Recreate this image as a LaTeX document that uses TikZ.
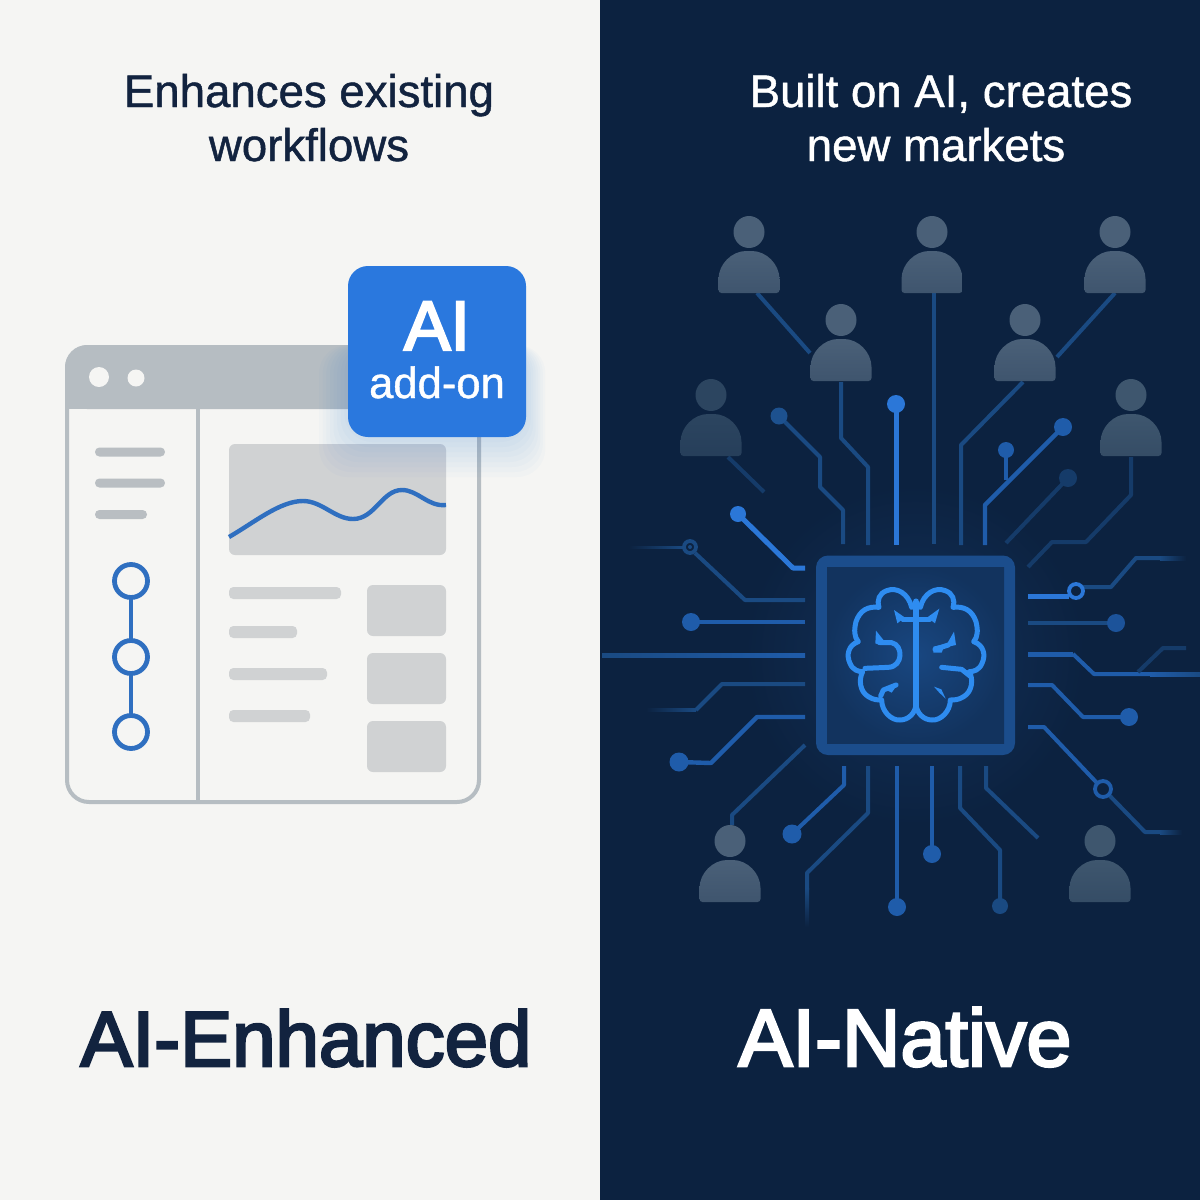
\documentclass[tikz,border=0pt]{standalone}
\usepackage{fontspec}
\setmainfont{Liberation Sans}
\newfontfamily\titlefont[FakeBold=3.2]{Liberation Sans}
\newfontfamily\headfont[FakeBold=1]{Liberation Sans}
\definecolor{lightbg}{HTML}{F5F5F3}
\definecolor{darkbg}{HTML}{0C2240}
\definecolor{ink}{HTML}{12233F}
\definecolor{frame}{HTML}{B6BDC2}
\definecolor{soft}{HTML}{D0D2D3}
\definecolor{barc}{HTML}{B9BEC2}
\definecolor{lineblue}{HTML}{2F6FC0}
\definecolor{badge}{HTML}{2A78DE}
\definecolor{bright}{HTML}{2B77D8}
\definecolor{midb}{HTML}{1F5CAA}
\definecolor{dimb}{HTML}{1A4A82}
\definecolor{faintb}{HTML}{153B69}
\definecolor{brainc}{HTML}{2E8CF0}
\definecolor{chipring}{HTML}{1B4D8C}
\definecolor{pa}{HTML}{4A6078}
\definecolor{pb}{HTML}{2C4560}
\definecolor{pc}{HTML}{3E566E}
\tikzset{
  trace/.style={line width=2pt,line join=round,draw=#1},
  trace/.default=dimb,
  brightt/.style={line width=2.5pt,line join=round,draw=bright},
  midt/.style={line width=2.2pt,line join=round,draw=midb},
  brainline/.style={line width=2.5pt,draw=brainc,line join=round,line cap=round},
  headtext/.style={font=\fontsize{22.8}{26}\selectfont\headfont,text=ink,anchor=base},
  titletext/.style={font=\fontsize{39}{44}\selectfont\titlefont,anchor=base},
  bar/.style={fill=#1,rounded corners=2.2pt},
  ringm/.style={line width=1.9pt,draw=#1,fill=darkbg},
}
\newcommand{\person}[3]{% cx, head centre y, colour
  \begin{scope}[shift={(#1,#2)}]
    \fill[#3] (0,0) ellipse [x radius=15.5,y radius=16];
    \shade[top color=#3,bottom color=#3!82!darkbg,rounded corners=1.5pt]
      (-30.5,61) -- (-30.5,50) .. controls (-30.5,32) and (-17,19) .. (0,19)
      .. controls (17,19) and (30.5,32) .. (30.5,50) -- (30.5,61) -- cycle;
  \end{scope}}
\newcommand{\brainhalf}{%
  (395,232) .. controls (385,190) and (350,170) .. (320,182)
  .. controls (298,190) and (290,210) .. (297,232)
  .. controls (265,228) and (240,240) .. (228,275)
  .. controls (222,300) and (222,320) .. (235,335)
  .. controls (205,345) and (198,375) .. (210,400)
  .. controls (218,420) and (235,425) .. (248,425)
  .. controls (235,450) and (240,485) .. (265,500)
  .. controls (280,510) and (295,510) .. (305,510)
  .. controls (305,545) and (335,572) .. (360,570)
  .. controls (385,570) and (405,550) .. (408,525)}
\begin{document}
\begin{tikzpicture}[x=0.5pt,y=-0.5pt]
\useasboundingbox (0,0) rectangle (1200,1200);
\fill[lightbg] (0,0) rectangle (600,1200);
\fill[darkbg] (600,0) rectangle (1200,1200);
% ---------- left: window
\draw[frame,line width=2pt,rounded corners=11pt] (67,347) rectangle (479,802);
\fill[frame,rounded corners=11pt] (65,345) rectangle (480,409);
\fill[frame] (65,395) rectangle (480,409);
\draw[frame,line width=2pt] (198,409) -- (198,800);
\fill[lightbg] (99,377) circle [radius=10];
\fill[lightbg] (136,378) circle [radius=8.5];
\fill[bar=barc] (95,447.5) rectangle (165,456.5);
\fill[bar=barc] (95,478.5) rectangle (165,487.5);
\fill[bar=barc] (95,510) rectangle (147,519);
% timeline
\draw[lineblue,line width=2.2pt] (131,598) -- (131,640) (131,674) -- (131,715);
\foreach \yy/\nm in {581/ta,657/tb,732/tc}
  \node[circle,draw=lineblue,line width=2.4pt,fill=lightbg,minimum size=16.5pt,inner sep=0pt] (\nm) at (131,\yy) {};
% chart
\fill[soft,rounded corners=3pt] (229,444) rectangle (446,555);
\draw[lineblue,line width=2.2pt] (229,537) .. controls (255,522) and (280,501) .. (303,501)
  .. controls (322,501) and (335,519) .. (353,519)
  .. controls (375,519) and (382,490) .. (402,490)
  .. controls (418,490) and (428,507) .. (446,505);
% list
\fill[bar=soft] (229,587) rectangle (341,599);
\fill[bar=soft] (229,626) rectangle (297,638);
\fill[bar=soft] (229,668) rectangle (327,680);
\fill[bar=soft] (229,710) rectangle (310,722);
\fill[soft,rounded corners=3pt] (367,585) rectangle (446,636);
\fill[soft,rounded corners=3pt] (367,653) rectangle (446,704);
\fill[soft,rounded corners=3pt] (367,721) rectangle (446,772);
% badge glow, below the badge only
\foreach \g in {32,28,...,2}
  \fill[badge,opacity=.022,rounded corners=14pt] (348-\g*.9,345) rectangle (526+\g*.6,437+\g*1.25);
\fill[badge,rounded corners=10pt] (348,266) rectangle (526,437);
\node[font=\fontsize{35}{35}\selectfont\titlefont,text=white,anchor=base] (ai) at (437,350) {AI};
\node[font=\fontsize{21.8}{22}\selectfont\headfont,text=white,anchor=base] (addon) at (437,398) {add-on};
% ---------- left text
\node[headtext] (lt1) at (309,107) {Enhances existing};
\node[headtext] (lt2) at (309,161) {workflows};
\node[titletext,text=ink] (lt3) at (306,1066) {AI-Enhanced};
% ---------- right text
\node[headtext,text=white] (rt1) at (941,107) {Built on AI, creates};
\node[headtext,text=white] (rt2) at (936,161) {new markets};
\node[titletext,text=white,font=\fontsize{40.5}{44}\selectfont\titlefont] (rt3) at (905,1066) {AI-Native};
% ---------- glow
\shade[inner color=chipring!35!darkbg,outer color=darkbg] (915,655) circle [radius=170];
% ---------- traces top
\draw[trace] (757,293) -- (810,353);
\draw[trace] (934,293) -- (934,544);
\draw[trace] (1115,293) -- (1057,357);
\draw[trace] (841,382) -- (841,438) -- (868,467) -- (868,545);
\draw[trace] (1023,382) -- (961,445) -- (961,545);
\draw[trace=faintb] (728,457) -- (764,492);
\draw[trace=faintb] (1131,457) -- (1131,495) -- (1086,542) -- (1052,542) -- (1028,567);
\draw[trace=dimb] (779,416) -- (820,457) -- (820,487) -- (843,510) -- (843,544);
\fill[dimb!85!bright] (779,416) circle [radius=8.5];
\draw[brightt] (896,404) -- (896,545);
\fill[bright] (896,404) circle [radius=9];
\draw[midt] (1063,427) -- (985,505) -- (985,545);
\fill[midb] (1063,427) circle [radius=9];
\draw[midt] (1006,450) -- (1006,480);
\fill[midb] (1006,450) circle [radius=8];
\draw[trace=faintb] (1068,478) -- (1006,543);
\fill[faintb] (1068,478) circle [radius=9];
\draw[brightt] (738,514) -- (793,568) -- (805,568);
\fill[bright] (738,514) circle [radius=8];
% left
\shade[left color=darkbg,right color=dimb] (629,546) rectangle (684,548);
\draw[trace] (695,553) -- (745,600) -- (805,600);
\draw[ringm=dimb] (690,547) circle [radius=6];
\fill[dimb] (690,547) circle [radius=2];
\draw[midt] (691,622) -- (805,622);
\fill[midb] (691,622) circle [radius=9];
\shade[left color=dimb,right color=midb] (602,653.3) rectangle (805,657);
\shade[left color=darkbg,right color=dimb] (646,708) rectangle (696,711.5);
\draw[trace] (696,710) -- (722,684) -- (805,684);
\draw[midt] (679,762) -- (711,763) -- (757,717) -- (805,717);
\fill[midb] (679,762) circle [radius=9.5];
\draw[trace] (805,745) -- (732,815) -- (732,825);
% bottom
\draw[trace=midb] (844,766) -- (844,785) -- (792,834);
\fill[midb] (792,834) circle [radius=9.5];
\draw[trace] (868,766) -- (868,813) -- (807,873) -- (807,890);
\shade[top color=dimb,bottom color=darkbg] (805,888) rectangle (809,927);
\draw[midt] (897,766) -- (897,907);
\fill[midb] (897,907) circle [radius=9];
\draw[midt] (932,766) -- (932,854);
\fill[midb] (932,854) circle [radius=9];
\draw[trace] (960,766) -- (960,808) -- (1000,850) -- (1000,906);
\fill[dimb] (1000,906) circle [radius=8];
\draw[trace] (986,766) -- (986,788) -- (1038,838);
% right
\draw[brightt] (1028,596) -- (1069,596);
\draw[trace] (1083,587) -- (1111,587) -- (1136,558) -- (1160,558);
\shade[left color=dimb,right color=darkbg] (1160,556) rectangle (1186,560);
\draw[ringm=bright] (1076,591) circle [radius=7];
\draw[trace] (1028,623) -- (1116,623);
\fill[midb!85!darkbg] (1116,623) circle [radius=9];
\draw[line width=2.5pt,draw=midb] (1028,654) -- (1073,654);
\draw[trace=midb] (1073,654) -- (1094,674) -- (1150,674);
\shade[left color=midb,right color=dimb] (1150,672) rectangle (1200,676);
\draw[trace=faintb] (1138,672) -- (1163,648) -- (1186,648);
\draw[trace=midb] (1028,685) -- (1052,685) -- (1083,717) -- (1129,717);
\fill[midb] (1129,717) circle [radius=9];
\draw[trace=midb] (1028,727) -- (1044,727) -- (1097,783);
\draw[trace] (1109,795) -- (1145,832) -- (1160,832);
\shade[left color=dimb,right color=darkbg] (1160,830) rectangle (1182,834);
\draw[ringm=midb] (1103,789) circle [radius=8];
% ---------- persons
\person{749}{232}{pa}
\person{932}{232}{pa}
\person{1115}{232}{pa}
\person{841}{320}{pa}
\person{1025}{320}{pa}
\person{711}{395}{pb}
\person{1131}{395}{pc}
\person{730}{841}{pa}
\person{1100}{841}{pc}
% ---------- chip
\fill[chipring,rounded corners=6pt] (816,555.5) rectangle (1015,755);
\shade[inner color=chipring!92!black,outer color=chipring!40!darkbg] (827,567) rectangle (1004,743);
% brain (drawn in 3x crop coordinates)
\begin{scope}[shift={(780,530)},scale=1/3]
  \draw[brainline] \brainhalf;
  \begin{scope}[shift={(816,0)},xscale=-1]
    \draw[brainline] \brainhalf;
  \end{scope}
  \draw[brainline,line width=3.2pt] (408,215) -- (408,535);
  \draw[brainline,line width=2.2pt] (408,268) -- (368,268);
  \draw[brainline,line width=2.2pt] (408,268) -- (450,268);
  \fill[brainc] (374,262) -- (342,240) -- (352,280) -- cycle;
  \fill[brainc] (442,262) -- (478,236) -- (465,280) -- cycle;
  \draw[brainline] (300,338) -- (335,338) .. controls (370,345) and (370,410) .. (325,412) -- (255,415);
  \fill[brainc] (288,302) -- (312,332) -- (298,345) -- (286,340) -- cycle;
  \draw[brainline] (348,465) -- (310,480) -- (302,498);
  \fill[brainc] (355,460) -- (335,488) -- (315,478) -- cycle;
  \draw[brainline] (465,358) -- (505,345);
  \fill[brainc] (522,305) -- (528,345) -- (495,352) -- cycle;
  \fill[brainc] (460,350) -- (495,342) -- (485,368) -- (460,368) -- cycle;
  \draw[brainline] (485,412) -- (545,418) -- (570,438);
  \fill[brainc,line width=0pt] (462,470) -- (484,478) -- (497,506) -- (478,488) -- cycle;
\end{scope}
\end{tikzpicture}
\end{document}
